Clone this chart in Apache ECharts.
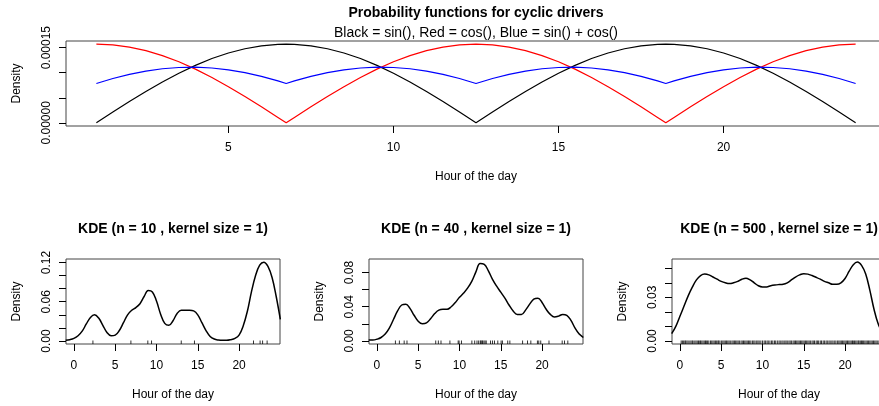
<!DOCTYPE html>
<html>
<head>
<meta charset="utf-8">
<script src="https://cdn.jsdelivr.net/npm/echarts@6/dist/echarts.min.js"></script>
<style>
  html, body { margin: 0; padding: 0; background: #fff; }
  #main { width: 879px; height: 406px; }
</style>
</head>
<body>
<div id="main"></div>
<script>
  // top panel: hour of day and the three cyclic densities (units of 1e-5)
  var hours = [1, 1.5, 2, 2.5, 3, 3.5, 4, 4.5, 5, 5.5, 6, 6.5, 6.75,
    7, 7.5, 8, 8.5, 9, 9.5, 10, 10.5, 11, 11.5, 12, 12.5, 13, 13.5, 14, 14.5, 15, 15.5, 16, 16.5, 17, 17.5, 18, 18.25,
    18.5, 19, 19.5, 20, 20.5, 21, 21.5, 22, 22.5, 23, 23.5, 24]
  var blackE5 = [0, 2.14, 4.24, 6.25, 8.16, 9.91, 11.47, 12.83, 13.94, 14.79, 15.37, 15.66, 15.7,
    15.66, 15.37, 14.79, 13.94, 12.83, 11.47, 9.91, 8.16, 6.25, 4.24, 2.14, 0, 2.14, 4.24, 6.25, 8.16, 9.91, 11.47, 12.83, 13.94, 14.79, 15.37, 15.66, 15.7,
    15.66, 15.37, 14.79, 13.94, 12.83, 11.47, 9.91, 8.16, 6.25, 4.24, 2.14, 0]
  var redE5 = [15.7, 15.55, 15.12, 14.4, 13.41, 12.18, 10.72, 9.05, 7.22, 5.26, 3.19, 1.07, 0,
    1.07, 3.19, 5.26, 7.22, 9.05, 10.72, 12.18, 13.41, 14.4, 15.12, 15.55, 15.7, 15.55, 15.12, 14.4, 13.41, 12.18, 10.72, 9.05, 7.22, 5.26, 3.19, 1.07, 0,
    1.07, 3.19, 5.26, 7.22, 9.05, 10.72, 12.18, 13.41, 14.4, 15.12, 15.55, 15.7]
  var blueE5 = [7.85, 8.85, 9.68, 10.33, 10.79, 11.04, 11.1, 10.94, 10.58, 10.03, 9.28, 8.37, 7.85,
    8.37, 9.28, 10.03, 10.58, 10.94, 11.1, 11.04, 10.79, 10.33, 9.68, 8.85, 7.85, 8.85, 9.68, 10.33, 10.79, 11.04, 11.1, 10.94, 10.58, 10.03, 9.28, 8.37, 7.85,
    8.37, 9.28, 10.03, 10.58, 10.94, 11.1, 11.04, 10.79, 10.33, 9.68, 8.85, 7.85]

  // KDE panels, evaluated every half hour from -1 to 25
  var kdeHours = [-1, -0.5, 0, 0.5, 1, 1.5, 2, 2.5, 3, 3.5, 4, 4.5, 5, 5.5, 6, 6.5, 7, 7.5, 8, 8.5, 9, 9.5, 10, 10.5, 11, 11.5, 12,
    12.5, 13, 13.5, 14, 14.5, 15, 15.5, 16, 16.5, 17, 17.5, 18, 18.5, 19, 19.5, 20, 20.5, 21, 21.5, 22, 22.5, 23, 23.5, 24, 24.5, 25]
  var kde10 = [0.001, 0.002, 0.004, 0.008, 0.015, 0.026, 0.036, 0.040, 0.035, 0.024, 0.013, 0.008, 0.009, 0.016, 0.028, 0.040, 0.047, 0.051, 0.057, 0.068, 0.077, 0.075, 0.061, 0.041, 0.027, 0.024, 0.031,
    0.042, 0.047, 0.047, 0.047, 0.046, 0.040, 0.028, 0.016, 0.007, 0.003, 0.0015, 0.001, 0.001, 0.002, 0.004, 0.009, 0.023, 0.045, 0.075, 0.100, 0.116, 0.1205, 0.114, 0.097, 0.068, 0.033]
  var kde40 = [0.001, 0.001, 0.002, 0.004, 0.008, 0.015, 0.025, 0.035, 0.042, 0.043, 0.038, 0.030, 0.023, 0.020, 0.021, 0.026, 0.032, 0.036, 0.037, 0.037, 0.040, 0.045, 0.051, 0.056, 0.062, 0.070, 0.081,
    0.0905, 0.0895, 0.082, 0.072, 0.064, 0.057, 0.050, 0.042, 0.035, 0.031, 0.031, 0.036, 0.043, 0.049, 0.050, 0.045, 0.037, 0.031, 0.028, 0.029, 0.031, 0.030, 0.024, 0.015, 0.008, 0.004]
  var kde500 = [0.005, 0.010, 0.017, 0.024, 0.031, 0.037, 0.042, 0.045, 0.046, 0.0455, 0.044, 0.0425, 0.041, 0.040, 0.0395, 0.040, 0.041, 0.0425, 0.0432, 0.042, 0.040, 0.038, 0.0372, 0.0372, 0.038, 0.0385, 0.0388,
    0.039, 0.040, 0.042, 0.044, 0.0455, 0.0463, 0.046, 0.045, 0.0438, 0.0425, 0.041, 0.040, 0.039, 0.039, 0.040, 0.043, 0.048, 0.0525, 0.0543, 0.052, 0.046, 0.035, 0.022, 0.012, 0.006, 0.003]

  // rug marks (observed hours)
  var rug10 = [2.3, 6.9, 8.95, 9.4, 13.0, 14.6, 21.75, 22.55, 22.85, 23.4]
  var rug40 = [2.24, 2.72, 3.3, 3.64, 7.12, 7.44, 7.76, 8.84, 9.84, 9.95, 10.24, 11.5, 11.84, 12.12, 12.32, 12.52, 12.6, 12.72, 12.8, 12.96,
    13.1, 13.24, 13.76, 14.0, 14.24, 14.64, 15.04, 15.2, 15.84, 16.1, 17.64, 18.24, 18.64, 19.44, 19.6, 19.84, 20.84, 22.44, 22.72, 23.12]
  var rug500 = [0.15, 0.3, 0.45, 0.6, 0.7, 0.85, 1.0, 1.2, 1.35, 1.5, 1.6, 1.8, 1.95, 2.1, 2.25, 2.4, 2.5, 2.65, 2.8, 2.95, 3.1, 3.2, 3.35, 3.5,
    3.7, 3.85, 4.0, 4.15, 4.3, 4.45, 4.6, 4.7, 4.85, 5.05, 5.2, 5.35, 5.5, 5.65, 5.8, 5.95, 6.1, 6.3, 6.45, 6.6, 6.75, 6.9, 7.05, 7.2, 7.4,
    7.55, 7.7, 7.85, 8.0, 8.15, 8.3, 8.45, 8.6, 8.8, 8.95, 9.1, 9.3, 9.45, 9.6, 9.8, 10.0, 10.2, 10.35, 10.55, 10.7, 10.9, 11.1, 11.25, 11.45,
    11.6, 11.8, 12.0, 12.15, 12.35, 12.5, 12.7, 12.85, 13.0, 13.2, 13.35, 13.5, 13.7, 13.85, 14.0, 14.15, 14.3, 14.45, 14.6, 14.75, 14.9,
    15.05, 15.2, 15.35, 15.5, 15.65, 15.8, 16.0, 16.15, 16.3, 16.5, 16.65, 16.8, 17.0, 17.15, 17.35, 17.5, 17.7, 17.85, 18.05, 18.2, 18.4,
    18.55, 18.75, 18.9, 19.1, 19.25, 19.4, 19.55, 19.7, 19.85, 20.0, 20.15, 20.3, 20.45, 20.6, 20.75, 20.9, 21.0, 21.15, 21.3, 21.45, 21.6,
    21.7, 21.85, 22.0, 22.1, 22.25, 22.4, 22.55, 22.7, 22.85, 23.0, 23.15, 23.3, 23.45, 23.6, 23.75, 23.9, 24.1, 24.3, 24.5, 24.7, 24.9]

  var xTicksTop = [5, 10, 15, 20]
  var xTicksKde = [0, 5, 10, 15, 20]

  var FONT = 'Liberation Sans, Arial, Helvetica, sans-serif'

  function pairs(xs, ys, k) {
    return xs.map(function (x, i) { return [x, ys[i] * (k || 1)] })
  }

  function xAxisFor(grid, min, max, ticks) {
    return {
      type: 'value', gridIndex: grid, min: min, max: max,
      name: 'Hour of the day', nameLocation: 'middle', nameGap: 45,
      nameTextStyle: { fontFamily: FONT, fontSize: 12, color: '#000', verticalAlign: 'top' },
      axisLine: { show: false, onZero: false },
      axisTick: { show: true, length: 7, customValues: ticks, lineStyle: { color: '#000' } },
      axisLabel: { customValues: ticks, margin: 16, fontFamily: FONT, fontSize: 12, color: '#000' },
      splitLine: { show: false }
    }
  }

  function yAxisFor(grid, min, max, ticks, labels, digits) {
    return {
      type: 'value', gridIndex: grid, min: min, max: max,
      name: 'Density', nameLocation: 'middle', nameGap: 43, nameRotate: 90,
      nameTextStyle: { fontFamily: FONT, fontSize: 12, color: '#000' },
      axisLine: { show: false, onZero: false },
      axisTick: { show: true, length: 7, customValues: ticks, lineStyle: { color: '#000' } },
      axisLabel: {
        customValues: labels, rotate: 90, margin: 13, fontFamily: FONT, fontSize: 12, color: '#000',
        formatter: function (v) { return Number(v).toFixed(digits) }
      },
      splitLine: { show: false }
    }
  }

  function line(xi, yi, data, color, width) {
    return {
      type: 'line', xAxisIndex: xi, yAxisIndex: yi, data: data, showSymbol: false, symbol: 'none',
      lineStyle: { color: color, width: width }, animation: false, silent: true
    }
  }

  function kdeLine(i, ys) {
    var s = line(i, i, pairs(kdeHours, ys), '#000', 1.5)
    s.smooth = 0.4
    return s
  }

  function rug(i, xs, ymin) {
    return {
      type: 'scatter', xAxisIndex: i, yAxisIndex: i, clip: false, animation: false, silent: true,
      symbol: 'rect', symbolSize: [1, 3.5], symbolOffset: [0, -1.75],
      itemStyle: { color: '#000' },
      data: xs.map(function (x) { return [x, ymin] })
    }
  }

  var box = { show: true, borderColor: '#444', borderWidth: 1, backgroundColor: 'transparent', outerBoundsMode: 'none' }
  function gridAt(left, top, width, height) {
    return Object.assign({ left: left, top: top, width: width, height: height }, box)
  }

  var chart = echarts.init(document.getElementById('main'), null, { renderer: 'canvas' })
  chart.setOption({
    backgroundColor: '#fff',
    animation: false,
    grid: [
      gridAt(66, 41, 820, 85),
      gridAt(66, 259, 214, 85),
      gridAt(369, 259, 214, 85),
      gridAt(672, 259, 214, 85)
    ],
    xAxis: [
      xAxisFor(0, 0.08, 24.92, xTicksTop),
      xAxisFor(1, -0.96, 24.96, xTicksKde),
      xAxisFor(2, -0.96, 24.96, xTicksKde),
      xAxisFor(3, -0.96, 24.96, xTicksKde)
    ],
    yAxis: [
      yAxisFor(0, -0.0000063, 0.0001633, [0, 0.00005, 0.0001, 0.00015], [0, 0.00015], 5),
      yAxisFor(1, -0.0046, 0.1253, [0, 0.02, 0.04, 0.06, 0.08, 0.1, 0.12], [0, 0.06, 0.12], 2),
      yAxisFor(2, -0.0036, 0.0958, [0, 0.02, 0.04, 0.06, 0.08], [0, 0.04, 0.08], 2),
      yAxisFor(3, -0.0021, 0.0564, [0, 0.01, 0.02, 0.03, 0.04, 0.05], [0, 0.03], 2)
    ],
    graphic: [
      { type: 'text', x: 476, y: 13, style: { text: 'Probability functions for cyclic drivers', font: 'bold 14px ' + FONT, fill: '#000', align: 'center', verticalAlign: 'middle' } },
      { type: 'text', x: 476, y: 33, style: { text: 'Black = sin(), Red = cos(), Blue = sin() + cos()', font: '14px ' + FONT, fill: '#000', align: 'center', verticalAlign: 'middle' } },
      { type: 'text', x: 173, y: 229, style: { text: 'KDE (n = 10 , kernel size = 1)', font: 'bold 14px ' + FONT, fill: '#000', align: 'center', verticalAlign: 'middle' } },
      { type: 'text', x: 476, y: 229, style: { text: 'KDE (n = 40 , kernel size = 1)', font: 'bold 14px ' + FONT, fill: '#000', align: 'center', verticalAlign: 'middle' } },
      { type: 'text', x: 779, y: 229, style: { text: 'KDE (n = 500 , kernel size = 1)', font: 'bold 14px ' + FONT, fill: '#000', align: 'center', verticalAlign: 'middle' } }
    ],
    series: [
      line(0, 0, pairs(hours, blackE5, 1e-5), '#000', 1.2),
      line(0, 0, pairs(hours, redE5, 1e-5), '#ff0000', 1.2),
      line(0, 0, pairs(hours, blueE5, 1e-5), '#0000ff', 1.2),
      kdeLine(1, kde10),
      kdeLine(2, kde40),
      kdeLine(3, kde500),
      rug(1, rug10, -0.0046),
      rug(2, rug40, -0.0036),
      rug(3, rug500, -0.0021)
    ]
  })
</script>
</body>
</html>
